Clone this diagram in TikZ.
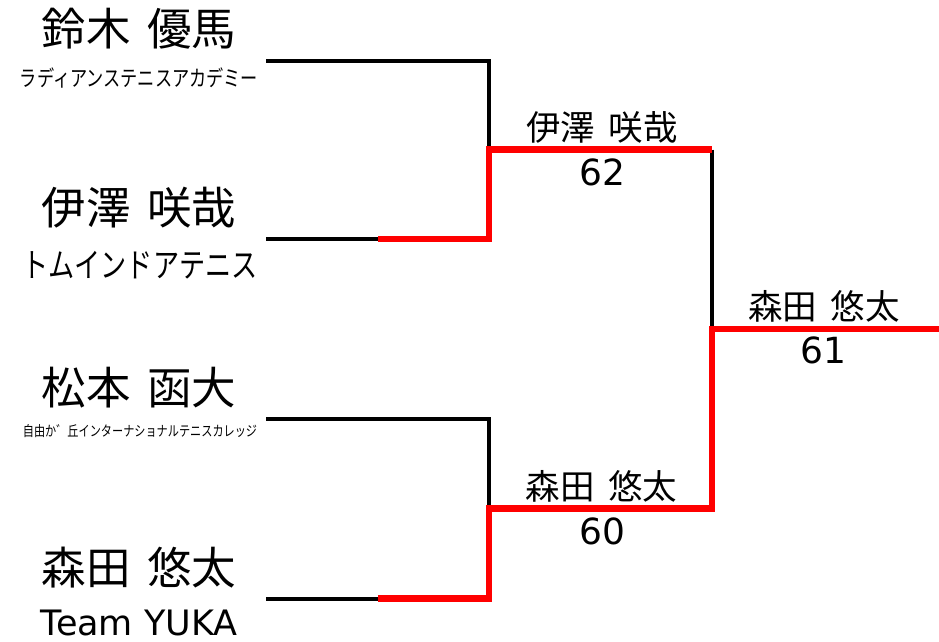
\documentclass[tikz,border=0pt]{standalone}
\usepackage{fontspec}
\newfontfamily\jp{Noto Sans CJK JP}
\newfontfamily\jpn[FakeStretch=0.78]{Noto Sans CJK JP}
\newfontfamily\lat{DejaVu Sans}
\definecolor{winred}{RGB}{255,0,0}
\newcommand\namesp{\hspace{0.38em}}
\begin{document}
\begin{tikzpicture}[x=1pt,y=-1pt,
  every node/.style={inner sep=0pt,outer sep=0pt,anchor=center},
  bigname/.style={font=\jp\fontsize{44.5}{48}\selectfont},
  matchname/.style={font=\jp\fontsize{34.5}{38}\selectfont},
  score/.style={font=\lat\fontsize{36}{40}\selectfont},
  club/.style={font=\jpn\fontsize{#1}{#1}\selectfont},
  teamlat/.style={font=\lat\fontsize{35}{38}\selectfont},
  loseline/.style={draw=black,line width=4pt,line join=miter},
  winline/.style={draw=winred,line width=6.5pt,line join=miter}]
\useasboundingbox (0,0) rectangle (939,641);

% players
\node[bigname] (n1) at (139,29) {鈴木\namesp 優馬};
\node[club=22] (c1) at (139,78) {ラディアンステニスアカデミー};
\node[bigname] (n2) at (139,208) {伊澤\namesp 咲哉};
\node[club=33.5] (c2) at (140,265) {トムインドアテニス};
\node[bigname] (n3) at (139,388) {松本\namesp 函大};
\node[club=14.3] (c3) at (140,431) {自由か゛丘インターナショナルテニスカレッジ};
\node[bigname] (n4) at (139,568) {森田\namesp 悠太};
\node[teamlat] (c4) at (139,623) {Team YUKA};

% bracket points
\coordinate (p1) at (266,60.5);
\coordinate (p2) at (266,239);
\coordinate (p3) at (266,419);
\coordinate (p4) at (266,598.5);
\coordinate (p2r) at (378,239);
\coordinate (p4r) at (378,598.5);
\coordinate (m1) at (489,149.5);
\coordinate (m2) at (489,508.5);
\coordinate (m1e) at (712,149.5);
\coordinate (m2e) at (712,508.5);
\coordinate (f) at (712,329);
\coordinate (fe) at (939,329);

% losing lines
\draw[loseline] (p1) -| (m1);
\draw[loseline] (p2) -- (p2r);
\draw[loseline] (p3) -| (m2);
\draw[loseline] (p4) -- (p4r);
\draw[loseline] (m1e) -- (f);

% winning lines
\draw[winline] (p2r) -| (m1) -- (m1e);
\draw[winline] (p4r) -| (m2) -- (m2e) -- (f) -- (fe);

% match results
\node[matchname] (w1) at (602,127) {伊澤\namesp 咲哉};
\node[score] (s1) at (602,172) {62};
\node[matchname] (w2) at (601.5,486) {森田\namesp 悠太};
\node[score] (s2) at (602,531) {60};
\node[matchname] (w3) at (824,306.5) {森田\namesp 悠太};
\node[score] (s3) at (823,350.5) {61};
\end{tikzpicture}
\end{document}
